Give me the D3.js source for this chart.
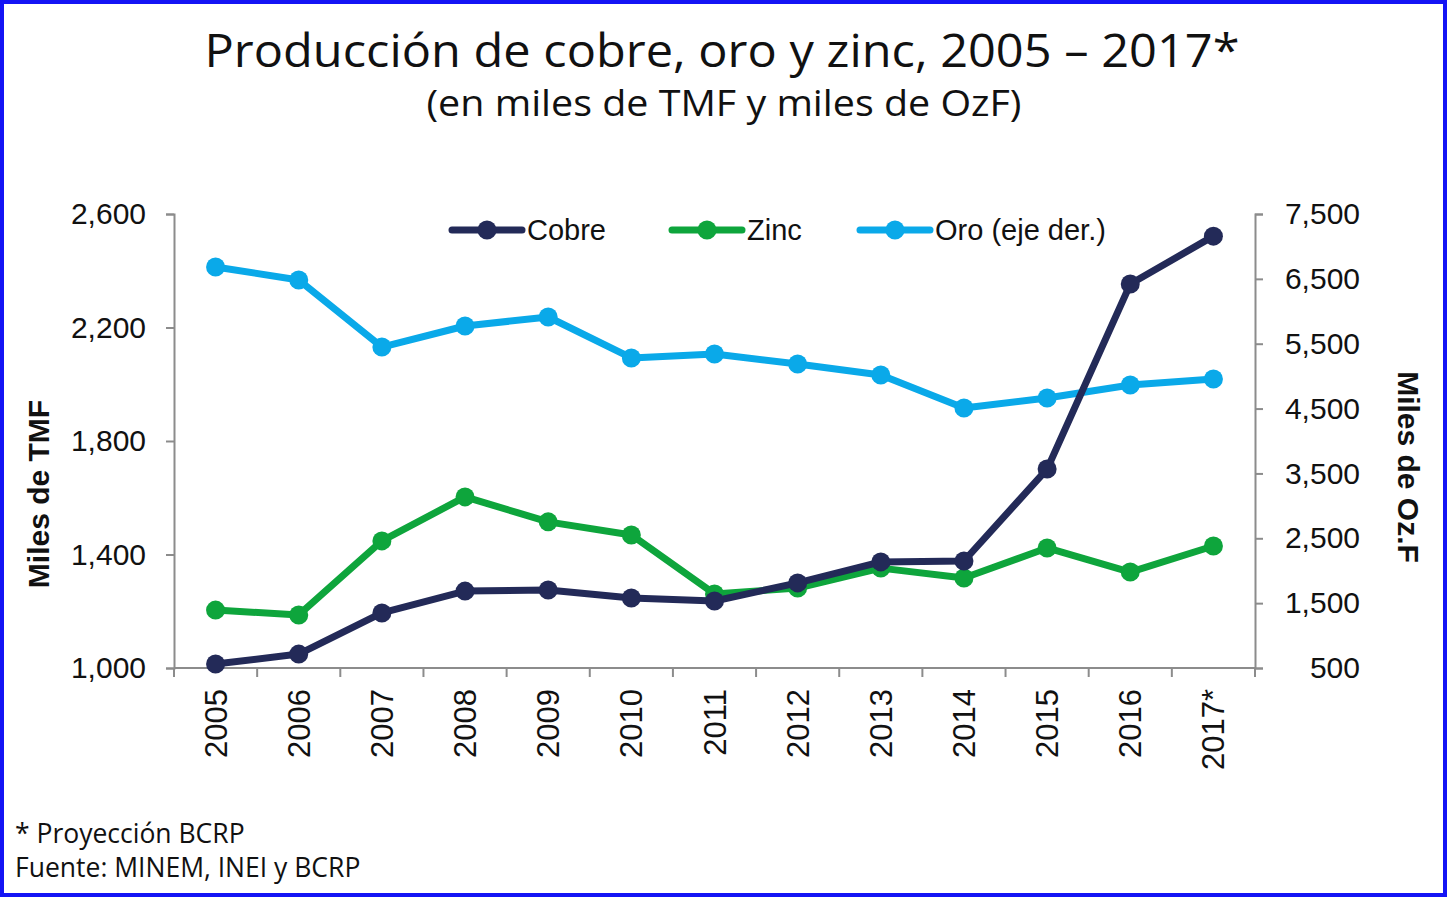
<!DOCTYPE html>
<html>
<head>
<meta charset="utf-8">
<script src="https://cdn.jsdelivr.net/npm/d3@7"></script>
<style>
  html, body { margin: 0; padding: 0; background: #fff; }
  svg { display: block; }
</style>
</head>
<body>
<svg id="chart" width="1447" height="897"></svg>
<script>
// data
const years = ["2005","2006","2007","2008","2009","2010","2011","2012","2013","2014","2015","2016","2017*"];
const cobre = [1014, 1049, 1194, 1271, 1275, 1247, 1236, 1300, 1374, 1377, 1701, 2353, 2522];
const zinc  = [1204, 1187, 1448, 1603, 1515, 1469, 1261, 1282, 1352, 1317, 1423, 1338, 1430];
const oro   = [6683, 6482, 5449, 5773, 5912, 5280, 5341, 5187, 5018, 4509, 4663, 4863, 4956];
const leftTicks  = [1000, 1400, 1800, 2200, 2600];
const rightTicks = [500, 1500, 2500, 3500, 4500, 5500, 6500, 7500];

const svg = d3.select("#chart"),
      margin = {top: 214, right: 192, bottom: 229, left: 174},
      width = +svg.attr("width") - margin.left - margin.right,
      height = +svg.attr("height") - margin.top - margin.bottom;

// blue frame
svg.append("rect")
    .attr("x", 2).attr("y", 2)
    .attr("width", 1443).attr("height", 893)
    .attr("fill", "#fff")
    .attr("stroke", "#1414f5")
    .attr("stroke-width", 4);

// titles
svg.append("text")
    .attr("x", 722).attr("y", 67)
    .attr("text-anchor", "middle")
    .style("font-family", "'Open Sans', sans-serif")
    .style("font-size", "46px")
    .attr("textLength", 1035)
    .attr("lengthAdjust", "spacingAndGlyphs")
    .attr("fill", "#111")
    .text("Producción de cobre, oro y zinc, 2005 – 2017*");

svg.append("text")
    .attr("x", 724).attr("y", 116)
    .attr("text-anchor", "middle")
    .style("font-family", "'Open Sans', sans-serif")
    .style("font-size", "37px")
    .attr("textLength", 595)
    .attr("lengthAdjust", "spacingAndGlyphs")
    .attr("fill", "#111")
    .text("(en miles de TMF y miles de OzF)");

const g = svg.append("g")
    .attr("transform", `translate(${margin.left},${margin.top})`);

const x = d3.scaleBand().domain(years).range([0, width]).padding(0);
const yL = d3.scaleLinear().domain([1000, 2600]).range([height, 0]);
const yR = d3.scaleLinear().domain([500, 7500]).range([height, 0]);

const axisColor = "#8c8c8c";
const tickFont = "'Liberation Sans', Arial, sans-serif";

// x axis: ticks on category boundaries
const xAxis = g.append("g")
    .attr("transform", `translate(0,${height})`);
xAxis.append("line")
    .attr("x1", 0).attr("x2", width)
    .attr("stroke", axisColor).attr("stroke-width", 2);
xAxis.selectAll(".xt")
    .data(years.concat(["end"]))
    .enter().append("line")
    .attr("x1", (d, i) => i * x.step())
    .attr("x2", (d, i) => i * x.step())
    .attr("y1", 0).attr("y2", 9)
    .attr("stroke", axisColor).attr("stroke-width", 2);
xAxis.selectAll(".xl")
    .data(years)
    .enter().append("text")
    .attr("transform", d => `translate(${x(d) + x.bandwidth() / 2 + 11},21) rotate(-90)`)
    .attr("text-anchor", "end")
    .style("font-family", tickFont)
    .style("font-size", "31px")
    .attr("fill", "#111")
    .text(d => d);

// left axis
const left = g.append("g")
    .call(d3.axisLeft(yL).tickValues(leftTicks).tickFormat(d3.format(",")).tickSize(8).tickPadding(20));
left.select(".domain").attr("stroke", axisColor).attr("stroke-width", 2);
left.selectAll(".tick line").attr("stroke", axisColor).attr("stroke-width", 2);
left.selectAll(".tick text")
    .style("font-family", tickFont).style("font-size", "30px").attr("fill", "#111");

// right axis
const right = g.append("g")
    .attr("transform", `translate(${width},0)`)
    .call(d3.axisRight(yR).tickValues(rightTicks).tickFormat(d3.format(",")).tickSize(8));
right.select(".domain").attr("stroke", axisColor).attr("stroke-width", 2);
right.selectAll(".tick line").attr("stroke", axisColor).attr("stroke-width", 2);
right.selectAll(".tick text")
    .attr("text-anchor", "end")
    .attr("x", 105)
    .style("font-family", tickFont).style("font-size", "30px").attr("fill", "#111");

// axis titles
svg.append("text")
    .attr("transform", "translate(49,494) rotate(-90)")
    .attr("text-anchor", "middle")
    .style("font-family", tickFont).style("font-size", "30px").style("font-weight", "bold")
    .attr("fill", "#111")
    .text("Miles de TMF");

svg.append("text")
    .attr("transform", "translate(1398,467) rotate(90)")
    .attr("text-anchor", "middle")
    .style("font-family", tickFont).style("font-size", "30px").style("font-weight", "bold")
    .attr("fill", "#111")
    .text("Miles de Oz.F");

// series
const series = [
  {name: "Cobre", values: cobre, scale: yL, color: "#232a58"},
  {name: "Zinc", values: zinc, scale: yL, color: "#0ea53c"},
  {name: "Oro (eje der.)", values: oro, scale: yR, color: "#0aa9e9"}
];

const cx = i => x(years[i]) + x.bandwidth() / 2;

// oro drawn first so cobre/zinc sit above it
[series[2], series[1], series[0]].forEach(s => {
  const line = d3.line()
      .x((d, i) => cx(i))
      .y(d => s.scale(d));
  g.append("path")
      .datum(s.values)
      .attr("fill", "none")
      .attr("stroke", s.color)
      .attr("stroke-width", 7)
      .attr("stroke-linejoin", "round")
      .attr("d", line);
  g.selectAll(null)
      .data(s.values)
      .enter().append("circle")
      .attr("cx", (d, i) => cx(i))
      .attr("cy", d => s.scale(d))
      .attr("r", 9.5)
      .attr("fill", s.color);
});

// legend
const legendX = [452, 672, 860];
const legend = svg.append("g");
series.forEach((s, i) => {
  const lg = legend.append("g").attr("transform", `translate(${legendX[i]},230)`);
  lg.append("line")
      .attr("x1", 0).attr("x2", 70)
      .attr("stroke", s.color).attr("stroke-width", 7).attr("stroke-linecap", "round");
  lg.append("circle").attr("cx", 35).attr("r", 9.5).attr("fill", s.color);
  lg.append("text")
      .attr("x", 75).attr("y", 10)
      .style("font-family", tickFont).style("font-size", "29px")
      .attr("fill", "#111")
      .text(s.name);
});

// footnotes
svg.append("text")
    .attr("x", 15).attr("y", 843)
    .style("font-family", "'Open Sans', sans-serif").style("font-size", "26.5px")
    .attr("fill", "#111")
    .text("* Proyección BCRP");
svg.append("text")
    .attr("x", 15).attr("y", 877)
    .style("font-family", "'Open Sans', sans-serif").style("font-size", "26.5px")
    .attr("fill", "#111")
    .text("Fuente: MINEM, INEI y BCRP");
</script>
</body>
</html>
